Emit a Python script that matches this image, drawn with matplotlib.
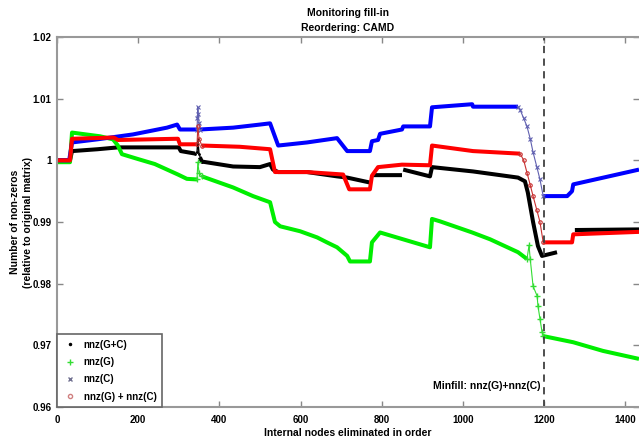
import numpy as np
import matplotlib
matplotlib.use("Agg")
import matplotlib.pyplot as plt
from matplotlib.lines import Line2D

plt.rcParams['font.family'] = ['Liberation Sans', 'DejaVu Sans']
plt.rcParams['font.weight'] = 'bold'
plt.rcParams['axes.titleweight'] = 'bold'
plt.rcParams['axes.labelweight'] = 'bold'

nan = np.nan

# nnz(G+C), main band
blk_x = [0, 32, 37, 100, 150, 300, 305, 340, nan, 352, 357, 434, 500, 525, 532, 545, 616, 690, 715, 771,
         nan, 779, 850, nan, 853, 919, 924, 1025, 1136, 1153, 1160, 1173, 1185, 1195, 1232, nan, 1276, 1434]
blk_y = [1.0, 1.0, 1.0015, 1.0018, 1.0021, 1.0021, 1.0015, 1.0011, nan, 1.0005, 0.9998, 0.9990, 0.9989, 0.9994,
         0.9985, 0.9981, 0.9981, 0.9974, 0.9972, 0.9964, nan, 0.9976, 0.9976, nan, 0.9985, 0.9974, 0.9989,
         0.9982, 0.9972, 0.9966, 0.9948, 0.9900, 0.9861, 0.9845, 0.9851, nan, 0.9887, 0.9888]
blk_sx = [340, 345, 347, 350, 357]
blk_sy = [1.0011, 1.0013, 1.0034, 1.0010, 0.9998]

# nnz(G)
grn_x = [0, 32, 37, 106, 138, 150, 160, 200, 241, 298, 320, 345, nan, 357, 434, 483, 525, 537, 550, 599,
         641, 665, 690, 715, 722, 771, 776, 796, 919, 924, 944, 1023, 1067, 1136, 1158,
         nan, 1198, 1272, 1345, 1434]
grn_y = [0.9997, 0.9997, 1.0045, 1.0039, 1.0034, 1.0024, 1.0010, 1.0002, 0.9994, 0.9977, 0.9970, 0.9969, nan,
         0.9974, 0.9956, 0.9942, 0.9932, 0.9900, 0.9893, 0.9885, 0.9875, 0.9867, 0.9859, 0.9845, 0.9836,
         0.9836, 0.9867, 0.9883, 0.9859, 0.9905, 0.9901, 0.9883, 0.9872, 0.9851, 0.9840,
         nan, 0.9715, 0.9705, 0.9691, 0.9678]
grn_sx = [345, 347, 350, 357, nan, 1158, 1163, 1166, 1173, 1183, 1185, 1190, 1195, 1198]
grn_sy = [0.9969, 0.9997, 0.9980, 0.9974, nan, 0.9840, 0.9862, 0.9840, 0.9796, 0.9780, 0.9764, 0.9743,
          0.9722, 0.9715]

# nnz(C)
blu_x = [0, 30, 37, 99, 187, 271, 296, 303, 345, nan, 352, 434, 500, 525, 545, 616, 690, 715, 771, 776,
         791, 796, 850, 853, 919, 924, 1023, 1025, 1136, nan, 1198, 1257, 1269, 1272, 1434]
blu_y = [1.0, 1.0, 1.0029, 1.0034, 1.0042, 1.0053, 1.0058, 1.0050, 1.0050, nan, 1.0050, 1.0053, 1.0058,
         1.0060, 1.0024, 1.0029, 1.0036, 1.0015, 1.0015, 1.0031, 1.0033, 1.0043, 1.0050, 1.0055, 1.0055,
         1.0086, 1.0091, 1.0087, 1.0087, nan, 0.9942, 0.9942, 0.9950, 0.9961, 0.9985]
blu_sx = [345, 346, 347, 348, 350, 352, nan, 1136, 1141, 1150, 1158, 1166, 1173, 1182, 1190, 1198]
blu_sy = [1.0050, 1.0068, 1.0086, 1.0075, 1.0060, 1.0050, nan, 1.0087, 1.0082, 1.0068, 1.0055, 1.0035,
          1.0013, 0.9990, 0.9969, 0.9942]

# nnz(G) + nnz(C)
red_x = [0, 32, 37, 140, 150, 298, 303, 345, nan, 357, 450, 525, 537, 616, 705, 720, 771, 776, 791, 850,
         919, 924, 1025, 1136, 1141, nan, 1198, 1269, 1272, 1434]
red_y = [1.0, 1.0, 1.0035, 1.0037, 1.0033, 1.0035, 1.0026, 1.0026, nan, 1.0024, 1.0022, 1.0018, 0.9981,
         0.9981, 0.9977, 0.9953, 0.9953, 0.9975, 0.9989, 0.9993, 0.9992, 1.0024, 1.0015, 1.0011, 1.0011,
         nan, 0.9867, 0.9867, 0.9880, 0.9884]
red_sx = [345, 347, 350, 357, nan, 1141, 1150, 1158, 1166, 1173, 1182, 1190, 1198]
red_sy = [1.0026, 1.0055, 1.0035, 1.0024, nan, 1.0011, 1.0000, 0.9980, 0.9960, 0.9942, 0.9920, 0.9900, 0.9867]

minfill_x = 1200
x_ticks = [0, 200, 400, 600, 800, 1000, 1200, 1400]
y_ticks = [0.96, 0.97, 0.98, 0.99, 1.0, 1.01, 1.02]
y_ticklabels = ['0.96', '0.97', '0.98', '0.99', '1', '1.01', '1.02']

fig = plt.figure(figsize=(6.39, 4.45), dpi=100)
ax = fig.add_axes([57 / 639, 38 / 445, 582 / 639, 370 / 445])

band = 2.9
ax.plot(blk_x, blk_y, color='black', lw=band, solid_capstyle='butt')
ax.plot(blk_sx, blk_sy, color='black', lw=1, marker='.', ms=2)
ax.plot(grn_x, grn_y, color='#00ee00', lw=band, solid_capstyle='butt')
ax.plot(grn_sx, grn_sy, color='#33dd33', lw=0.8, marker='+', ms=4, mew=1)
ax.plot(blu_x, blu_y, color='#0000ff', lw=band, solid_capstyle='butt')
ax.plot(blu_sx, blu_sy, color='#6060b0', lw=0.8, marker='x', ms=3, mew=0.8)
ax.plot(red_x, red_y, color='#ff0000', lw=band, solid_capstyle='butt')
ax.plot(red_sx, red_sy, color='#c83030', lw=0.8, marker='o', ms=2.5, mfc='none', mew=0.8)

ax.axvline(minfill_x, color='#404040', lw=1.3, ls=(0, (4, 3)))
ax.text(minfill_x - 8, 0.9634, 'Minfill: nnz(G)+nnz(C)', ha='right', va='center', fontsize=7.5)

ax.set_xlim(0, 1434)
ax.set_ylim(0.96, 1.02)
ax.set_xticks(x_ticks)
ax.set_yticks(y_ticks)
ax.set_yticklabels(y_ticklabels)
ax.tick_params(direction='in', top=True, right=True, length=4, width=1, color='#888888',
               labelsize=7, pad=4)
ax.tick_params(axis='x', pad=6)
for side in ['left', 'bottom', 'top']:
    ax.spines[side].set_color('#999999')
    ax.spines[side].set_linewidth(1.5)
ax.spines['right'].set_visible(False)

ax.set_title('Monitoring fill-in\nReordering: CAMD', fontsize=7.5, pad=4, linespacing=1.7)
ax.set_xlabel('Internal nodes eliminated in order', fontsize=7.5)
ax.set_ylabel('Number of non-zeros\n(relative to original matrix)', fontsize=7.5, linespacing=1.3)
ax.xaxis.set_label_coords(0.5, -0.058)
ax.yaxis.set_label_coords(-0.042, 0.5)

handles = [
    Line2D([], [], ls='none', marker='.', color='black', ms=3),
    Line2D([], [], ls='none', marker='+', color='#33dd33', ms=4),
    Line2D([], [], ls='none', marker='x', color='#707090', ms=3),
    Line2D([], [], ls='none', marker='o', mfc='none', mec='#d08080', ms=3),
]
labels = ['nnz(G+C)', 'nnz(G)', 'nnz(C)', 'nnz(G) + nnz(C)']
leg = ax.legend(handles, labels, loc='lower left', fontsize=7, borderaxespad=0, handlelength=1.6,
                handletextpad=0.6, fancybox=False, edgecolor='#666666', framealpha=1,
                borderpad=0.55, labelspacing=0.75)
leg.get_frame().set_linewidth(1.2)

fig.savefig('out.png', dpi=100)
